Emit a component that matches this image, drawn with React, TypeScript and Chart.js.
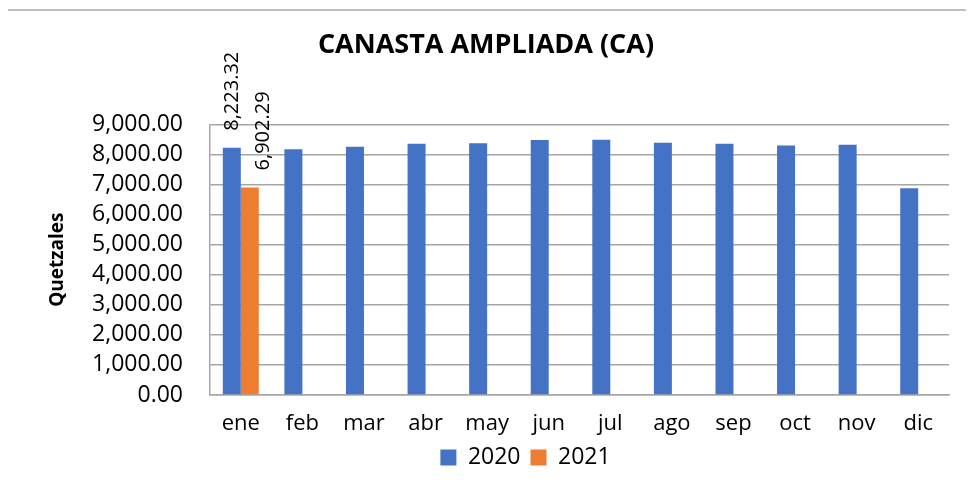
import React, { useEffect, useRef } from 'react';
import { Chart, registerables } from 'chart.js';

Chart.register(...registerables);

const chartTitle = 'CANASTA AMPLIADA (CA)';
const yAxisTitle = 'Quetzales';
const categories = ['ene', 'feb', 'mar', 'abr', 'may', 'jun', 'jul', 'ago', 'sep', 'oct', 'nov', 'dic'];
const seriesNames = ['2020', '2021'];
const values2020 = [8223.32, 8177, 8256, 8355, 8377, 8477, 8490, 8390, 8355, 8300, 8323, 6880];
const values2021: (number | null)[] = [6902.29, null, null, null, null, null, null, null, null, null, null, null];
const yMin = 0;
const yMax = 9000;
const yStep = 1000;
const labeledIndices = [0];

const seriesColors = ['#4472C4', '#ED7D31'];
const FONT = '"Open Sans", "Noto Sans", sans-serif';

const fmt = (v: number) =>
  v.toLocaleString('en-US', { minimumFractionDigits: 2, maximumFractionDigits: 2 });

const framePlugin = {
  id: 'frame',
  beforeDraw(chart: any) {
    const ctx = chart.ctx;
    ctx.save();
    ctx.strokeStyle = '#bfbfbf';
    ctx.lineWidth = 2;
    ctx.beginPath();
    ctx.moveTo(7, chart.height);
    ctx.lineTo(7, 10);
    ctx.lineTo(chart.width, 10);
    ctx.stroke();
    ctx.restore();
  },
};

const shiftPlugin = {
  id: 'shift',
  afterLayout(chart: any) {
    const t = chart.titleBlock;
    if (t) {
      t.left += 11.5;
      t.right += 11.5;
    }
    const l = chart.legend;
    if (l) {
      l.left += 51;
      l.right += 51;
    }
  },
};

const valueLabelPlugin = {
  id: 'valueLabels',
  afterDatasetsDraw(chart: any) {
    const ctx = chart.ctx;
    const dx = [0, 14];
    chart.data.datasets.forEach((ds: any, di: number) => {
      const meta = chart.getDatasetMeta(di);
      labeledIndices.forEach((i) => {
        const v = ds.data[i];
        if (v == null) return;
        const el = meta.data[i];
        ctx.save();
        ctx.translate(el.x + (dx[di] || 0), el.y - 17);
        ctx.rotate(-Math.PI / 2);
        ctx.font = `20px ${FONT}`;
        ctx.fillStyle = '#000';
        ctx.textAlign = 'left';
        ctx.textBaseline = 'middle';
        ctx.fillText(fmt(v), 0, 0);
        ctx.restore();
      });
    });
  },
};

export default function App() {
  const ref = useRef<HTMLCanvasElement>(null);

  useEffect(() => {
    if (!ref.current) return;
    const chart = new Chart(ref.current, {
      type: 'bar',
      data: {
        labels: categories,
        datasets: [
          { label: seriesNames[0], data: values2020, backgroundColor: seriesColors[0] },
          { label: seriesNames[1], data: values2021, backgroundColor: seriesColors[1] },
        ],
      },
      options: {
        animation: false,
        responsive: false,
        devicePixelRatio: 1,
        datasets: { bar: { categoryPercentage: 0.584, barPercentage: 1 } },
        layout: { padding: { left: 0, right: 25, top: 0, bottom: 10 } },
        plugins: {
          title: {
            display: true,
            text: chartTitle,
            color: '#000',
            font: { family: FONT, size: 27, weight: 'bold' },
            padding: { top: 29, bottom: 63 },
          },
          legend: {
            position: 'bottom',
            labels: {
              boxWidth: 16,
              boxHeight: 16,
              color: '#000',
              font: { family: FONT, size: 23 },
              padding: 10,
            },
          },
          tooltip: { enabled: false },
        },
        scales: {
          x: {
            grid: { display: false, drawTicks: false },
            border: { display: true, color: '#a6a6a6', width: 1.5 },
            ticks: { color: '#000', font: { family: FONT, size: 22 }, padding: 16, maxRotation: 0 },
            afterFit: (s: any) => {
              s.height = 41;
            },
          },
          y: {
            min: yMin,
            max: yMax,
            ticks: {
              stepSize: yStep,
              autoSkip: false,
              color: '#000',
              font: { family: FONT, size: 23 },
              padding: 27,
              callback: (v: any) => fmt(Number(v)),
            },
            grid: { color: '#a6a6a6', lineWidth: 1.5, drawTicks: false },
            border: { display: true, color: '#a6a6a6', width: 1.5 },
            title: {
              display: true,
              text: yAxisTitle,
              color: '#000',
              font: { family: FONT, size: 19, weight: 'bold' },
              padding: { top: 46 },
            },
            afterFit: (s: any) => {
              s.width = 210;
            },
          },
        },
      },
      plugins: [framePlugin, shiftPlugin, valueLabelPlugin],
    } as any);
    return () => chart.destroy();
  }, []);

  return (
    <div style={{ margin: -8, width: 974, height: 489 }}>
      <canvas ref={ref} width={974} height={489} style={{ display: 'block', width: 974, height: 489 }} />
    </div>
  );
}
